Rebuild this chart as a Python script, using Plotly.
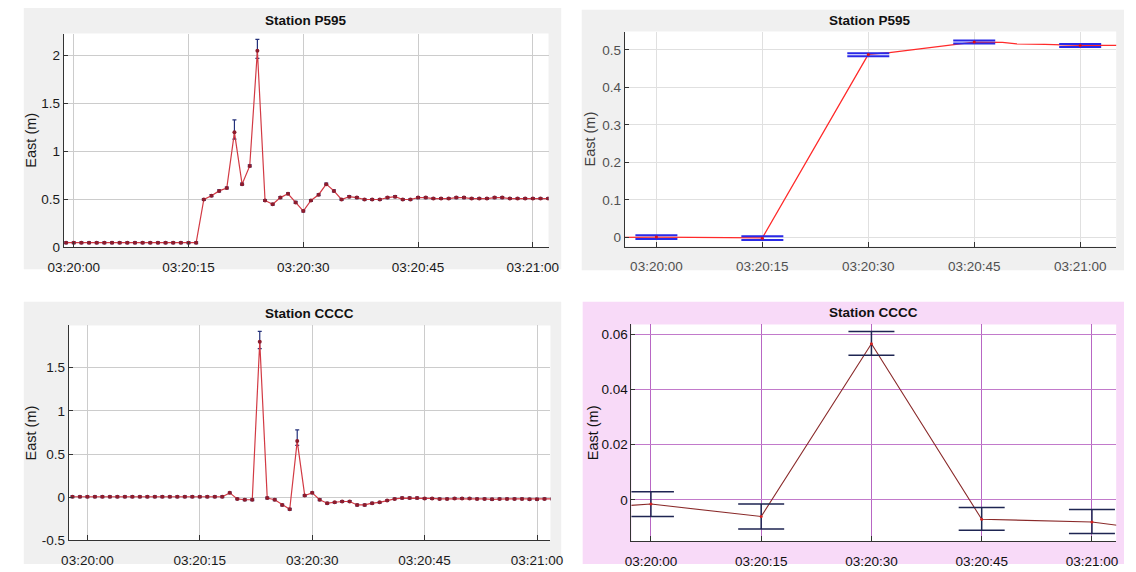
import plotly.graph_objects as go

W, H = 1136, 572

# ---------------- data ----------------
tick_secs = [0, 15, 30, 45, 60]
tick_labels = ["03:20:00", "03:20:15", "03:20:30", "03:20:45", "03:21:00"]

# Station P595, 1 Hz solution (seconds after 03:20:00)
p595_t = list(range(-1, 63))
p595_east = [0.05] * 18 + [
    0.50, 0.54, 0.59, 0.62, 1.20, 0.66, 0.85, 2.05, 0.49, 0.45,
    0.52, 0.56, 0.47, 0.38, 0.49, 0.55, 0.66, 0.59, 0.50, 0.53,
    0.52, 0.50, 0.50, 0.50, 0.52, 0.53, 0.50, 0.50, 0.52, 0.52,
    0.51, 0.51, 0.51, 0.52, 0.52, 0.51, 0.51, 0.51, 0.52, 0.52,
    0.51, 0.51, 0.51, 0.51, 0.51, 0.51]
p595_err_up = [0.01] * 22 + [0.13, 0.01, 0.01, 0.12] + [0.01] * 38
p595_err_dn = [0.01] * 22 + [0.07, 0.01, 0.01, 0.08] + [0.01] * 38

# Station CCCC, 1 Hz solution
cccc_t = list(range(-2, 63))
cccc_east = [0.005] * 21 + [
    0.05, -0.02, -0.03, -0.03, 1.80, -0.01, -0.03, -0.09, -0.14, 0.65,
    0.02, 0.05, -0.03, -0.07, -0.06, -0.05, -0.05, -0.09, -0.09, -0.07,
    -0.06, -0.04, -0.02, -0.01, -0.01, -0.01, -0.015, -0.015, -0.02, -0.02,
    -0.015, -0.015, -0.015, -0.02, -0.02, -0.025, -0.02, -0.02, -0.02, -0.02,
    -0.025, -0.025, -0.02, -0.02]
cccc_err_up = [0.01] * 25 + [0.12, 0.01, 0.01, 0.01, 0.01, 0.13] + [0.01] * 34
cccc_err_dn = [0.01] * 25 + [0.08, 0.01, 0.01, 0.01, 0.01, 0.05] + [0.01] * 34

# Station P595, 15 s solution
p595_15_line_t = [-5, 0, 15, 30, 33, 36, 42, 45, 49, 51, 55, 57, 60, 66]
p595_15_line = [0.0, 0.001, -0.001, 0.488, 0.493, 0.500, 0.515, 0.521, 0.520,
                0.516, 0.515, 0.513, 0.512, 0.512]
p595_15_t = [0, 15, 30, 45, 60]
p595_15_east = [0.001, -0.002, 0.488, 0.521, 0.512]
p595_15_up = [0.005, 0.005, 0.003, 0.004, 0.004]
p595_15_dn = [0.005, 0.005, 0.005, 0.004, 0.004]

# Station CCCC, 15 s solution
cccc_15_line_t = [-5, 0, 15, 30, 45, 60, 65]
cccc_15_line = [-0.0024, -0.0015, -0.006, 0.0566, -0.007, -0.008, -0.0097]
cccc_15_t = [0, 15, 30, 45, 60]
cccc_15_east = [-0.0015, -0.006, 0.0566, -0.007, -0.008]
cccc_15_up = [0.0045, 0.0045, 0.0044, 0.0043, 0.0045]
cccc_15_dn = [0.0045, 0.0045, 0.0042, 0.0040, 0.0042]


def px_x(p):
    return p / W


def px_y(p):
    return 1 - p / H


FONT = "Liberation Sans, Arial, sans-serif"

fig = go.Figure()

# ---- traces ----
fig.add_trace(go.Scatter(
    x=p595_t, y=p595_east, mode="lines+markers", xaxis="x", yaxis="y",
    line=dict(color="#d23a44", width=1.2),
    marker=dict(color="#8e1c2c", size=4),
    error_y=dict(type="data", symmetric=False, array=p595_err_up, arrayminus=p595_err_dn,
                 color="#23307a", thickness=1.2, width=2),
    showlegend=False))

fig.add_trace(go.Scatter(
    x=p595_15_line_t, y=p595_15_line, mode="lines", xaxis="x2", yaxis="y2",
    line=dict(color="#ff2a2a", width=1.3), showlegend=False))
fig.add_trace(go.Scatter(
    x=p595_15_t, y=p595_15_east, mode="markers", xaxis="x2", yaxis="y2",
    marker=dict(color="#e01010", size=3),
    error_y=dict(type="data", symmetric=False, array=p595_15_up, arrayminus=p595_15_dn,
                 color="#2a2ae8", thickness=2, width=21),
    showlegend=False))

fig.add_trace(go.Scatter(
    x=cccc_t, y=cccc_east, mode="lines+markers", xaxis="x3", yaxis="y3",
    line=dict(color="#d23a44", width=1.2),
    marker=dict(color="#8e1c2c", size=4),
    error_y=dict(type="data", symmetric=False, array=cccc_err_up, arrayminus=cccc_err_dn,
                 color="#23307a", thickness=1.2, width=2),
    showlegend=False))

fig.add_trace(go.Scatter(
    x=cccc_15_line_t, y=cccc_15_line, mode="lines", xaxis="x4", yaxis="y4",
    line=dict(color="#8a2a2a", width=1.1), showlegend=False))
fig.add_trace(go.Scatter(
    x=cccc_15_t, y=cccc_15_east, mode="markers", xaxis="x4", yaxis="y4",
    marker=dict(color="#d42020", size=3),
    error_y=dict(type="data", symmetric=False, array=cccc_15_up, arrayminus=cccc_15_dn,
                 color="#1e2552", thickness=1.5, width=23),
    showlegend=False))


def xaxis(dom, rng, grid, tickcolor, anchor):
    return dict(domain=[px_x(dom[0]), px_x(dom[1])], range=rng, anchor=anchor,
                tickvals=tick_secs, ticktext=tick_labels, showgrid=True,
                gridcolor=grid, gridwidth=1, zeroline=False, showline=True,
                linecolor="#333333", linewidth=1, ticks="inside", ticklen=5,
                tickcolor="#333333", ticklabelstandoff=7,
                tickfont=dict(family=FONT, size=13.5, color=tickcolor),
                fixedrange=True)


def yaxis(dom, rng, vals, texts, grid, tickcolor, anchor):
    return dict(domain=[px_y(dom[1]), px_y(dom[0])], range=rng, anchor=anchor,
                tickvals=vals, ticktext=texts, showgrid=True, gridcolor=grid,
                gridwidth=1, zeroline=False, showline=True, linecolor="#333333",
                linewidth=1, ticks="inside", ticklen=4, tickcolor="#333333",
                tickfont=dict(family=FONT, size=13.5, color=tickcolor), fixedrange=True)


tl_y_vals = [0, 0.5, 1, 1.5, 2]
tl_y_text = ["0", "0.5", "1", "1.5", "2"]
tr_y_vals = [0, 0.1, 0.2, 0.3, 0.4, 0.5]
tr_y_text = ["0", "0.1", "0.2", "0.3", "0.4", "0.5"]
bl_y_vals = [-0.5, 0, 0.5, 1, 1.5]
bl_y_text = ["-0.5", "0", "0.5", "1", "1.5"]
br_y_vals = [0, 0.02, 0.04, 0.06]
br_y_text = ["0", "0.02", "0.04", "0.06"]

plot_boxes = [(49, 34, 546, 251), (624, 32, 1128, 250), (54, 330, 548, 548), (631, 329, 1128, 549)]

fig.update_layout(
    width=W, height=H, margin=dict(l=0, r=0, t=0, b=0),
    paper_bgcolor="white", plot_bgcolor="white",
    xaxis=xaxis((49, 546), [-1.3, 62.05], "#cccccc", "#1a1a1a", "y"),
    yaxis=yaxis((34, 251), [0, 2.23], tl_y_vals, tl_y_text, "#cccccc", "#1a1a1a", "x"),
    xaxis2=xaxis((624, 1128), [-4.5, 65.1], "#e0e0e0", "#505050", "y2"),
    yaxis2=yaxis((32, 250), [-0.024, 0.549], tr_y_vals, tr_y_text, "#e0e0e0", "#505050", "x2"),
    xaxis3=xaxis((54, 548), [-2.5, 61.8], "#cccccc", "#1a1a1a", "y3"),
    yaxis3=yaxis((330, 548), [-0.5, 1.99], bl_y_vals, bl_y_text, "#cccccc", "#1a1a1a", "x3"),
    xaxis4=xaxis((631, 1128), [-2.65, 63.3], "#b866c4", "#111111", "y4"),
    yaxis4=yaxis((329, 549), [-0.015, 0.0636], br_y_vals, br_y_text, "#c27acb", "#111111", "x4"),
)

# panel backgrounds, then white plotting areas
panels = [((8, 8), (559, 273), "#f0f0f0"), ((580, 10), (1136, 274), "#f0f0f0"),
          ((8, 306), (559, 572), "#f0f0f0"), ((581, 306), (1136, 572), "#f8daf8")]
for (x0, y0), (x1, y1), col in panels:
    fig.add_shape(type="rect", xref="paper", yref="paper", x0=px_x(x0), x1=px_x(x1),
                  y0=px_y(y1), y1=px_y(y0), fillcolor=col, line=dict(width=0), layer="below")
for x0, y0, x1, y1 in plot_boxes:
    fig.add_shape(type="rect", xref="paper", yref="paper", x0=px_x(x0), x1=px_x(x1),
                  y0=px_y(y1), y1=px_y(y0), fillcolor="white", line=dict(width=0), layer="below")

titles = [("Station P595", 297, 21), ("Station P595", 876, 21),
          ("Station CCCC", 301, 318), ("Station CCCC", 879, 317)]
for txt, x, y in titles:
    fig.add_annotation(text="<b>%s</b>" % txt, x=px_x(x), y=px_y(y), xref="paper", yref="paper",
                       showarrow=False, xanchor="center", yanchor="middle",
                       font=dict(family=FONT, size=13.5, color="#111111"))

ylabels = [(15, 142, "#1a1a1a"), (589, 141, "#404040"), (15, 439, "#1a1a1a"), (591, 439, "#111111")]
for x, y, col in ylabels:
    fig.add_annotation(text="East (m)", x=px_x(x), y=px_y(y), xref="paper", yref="paper",
                       showarrow=False, textangle=-90, xanchor="center", yanchor="middle",
                       font=dict(family=FONT, size=14.5, color=col))

fig.write_html("out.html", post_script="document.body.style.margin='0';")
